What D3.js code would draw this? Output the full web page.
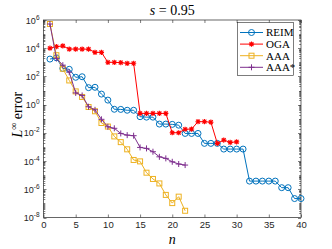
<!DOCTYPE html>
<html>
<head>
<meta charset="utf-8">
<script src="https://cdn.jsdelivr.net/npm/d3@7"></script>
<style>
  html, body { margin: 0; padding: 0; background: #fff; }
  svg { display: block; }
</style>
</head>
<body>
<svg id="chart"></svg>
<script>
const W = 332, H = 249;

const reim = [1.7e3, 2.1e3, 3.7e2, 3.2e2, 87, 95, 16, 17, 5.6, 2.1,
  0.47, 0.46, 0.40, 0.40, 0.14, 0.13, 0.13, 0.042, 0.042, 0.040,
  0.035, 9.1e-3, 9.1e-3, 9.1e-3, 1.8e-3, 1.8e-3, 1.8e-3, 7.1e-4, 7.1e-4, 7.1e-4,
  7.1e-4, 3.8e-6, 3.8e-6, 3.8e-6, 3.8e-6, 3.8e-6, 1.3e-6, 1.3e-6, 2.2e-7, 2.2e-7];
const oga = [1.0e4, 1.3e4, 1.45e4, 8.7e3, 8.7e3, 8.7e3, 8.5e3, 5.1e3, 5.1e3, 1.0e3,
  1.0e3, 9.5e2, 8.5e2, 8.5e2, 0.24, 0.24, 0.24, 0.24, 0.24, 0.0102,
  0.0102, 0.018, 0.0186, 0.062, 0.062, 0.057, 1.8e-3, 3.1e-3, 2.1e-3, 2.3e-3];
const aaa = [5.2e5, 3.2e3, 3.5e2, 52, 8.7, 3.5, 0.68, 0.34, 0.05, 0.028,
  5.6e-3, 2.2e-3, 6.8e-4, 1.2e-4, 9.5e-5, 1.5e-5, 5.4e-6, 2.6e-6, 4.0e-7, 1.05e-7,
  3.0e-7, 3.0e-8];
const aaaStar = [5.2e5, 1.9e3, 6.3e2, 2.0e2, 6.8, 4.5, 0.71, 0.43, 0.091, 0.027,
  0.021, 9.1e-3, 6.9e-3, 6.3e-3, 9.3e-4, 7.9e-4, 4.6e-4, 2.0e-4, 1.55e-4, 8.9e-5,
  6.2e-5, 5.2e-5];

const xTicks = [0, 5, 10, 15, 20, 25, 30, 35, 40];
const yTickExps = [-8, -6, -4, -2, 0, 2, 4, 6];

const series = [
  { name: 'REIM', values: reim, color: '#0072BD', marker: 'circle' },
  { name: 'OGA', values: oga, color: '#FF0000', marker: 'asterisk' },
  { name: 'AAA', values: aaa, color: '#EDB120', marker: 'square' },
  { name: 'AAA*', values: aaaStar, color: '#7E2F8E', marker: 'plus' }
];

const svg = d3.select('#chart').attr('width', W).attr('height', H);

const mLeft = 43.5, mRight = 301, mTop = 20, mBottom = 217.5;
const x = d3.scaleLinear().domain([0, 40]).range([mLeft, mRight]);
const y = d3.scaleLog().domain([1e-8, 1e6]).range([mBottom, mTop]);

const axisColor = '#262626';

// minor ticks on the log axis
const minor = [];
for (let e = -8; e < 6; e++) {
  for (let m = 1; m <= 9; m++) minor.push(m * Math.pow(10, e));
}
minor.push(1e6);
const gMinor = svg.append('g');
minor.forEach(v => {
  const lg10 = Math.log10(v);
  const isDecade = Math.abs(lg10 - Math.round(lg10)) < 1e-9;
  const major = isDecade && yTickExps.includes(Math.round(lg10));
  const len = major ? 3 : 1.8;
  const yy = Math.round(y(v)) + 0.5;
  gMinor.append('line').attr('x1', mLeft).attr('x2', mLeft + len).attr('y1', yy).attr('y2', yy)
    .attr('stroke', axisColor).attr('stroke-width', 0.6);
  gMinor.append('line').attr('x1', mRight).attr('x2', mRight - len).attr('y1', yy).attr('y2', yy)
    .attr('stroke', axisColor).attr('stroke-width', 0.6);
});

// x ticks, bottom and top
const xAxis = d3.axisBottom(x).tickValues(xTicks).tickSizeInner(-3).tickSizeOuter(0).tickPadding(4);
const gx = svg.append('g').attr('transform', `translate(0,${mBottom})`).call(xAxis);
gx.select('.domain').remove();
gx.selectAll('line').attr('stroke', axisColor).attr('stroke-width', 0.6);
gx.selectAll('text').attr('font-family', 'Liberation Sans, Arial, sans-serif')
  .attr('font-size', 9.5).attr('fill', axisColor);

const gxt = svg.append('g').attr('transform', `translate(0,${mTop})`)
  .call(d3.axisTop(x).tickValues(xTicks).tickSizeInner(-3).tickSizeOuter(0).tickFormat(''));
gxt.select('.domain').remove();
gxt.selectAll('line').attr('stroke', axisColor).attr('stroke-width', 0.6);

// y tick labels with superscripts
const gyl = svg.append('g');
yTickExps.forEach(e => {
  const t = gyl.append('text')
    .attr('x', mLeft - 4).attr('y', y(Math.pow(10, e)) + 3.5)
    .attr('text-anchor', 'end')
    .attr('font-family', 'Liberation Sans, Arial, sans-serif')
    .attr('font-size', 9).attr('fill', axisColor);
  t.append('tspan').text('10');
  t.append('tspan').attr('dy', -4).attr('font-size', 6.5).text(String(e));
});

// axes box
svg.append('rect').attr('x', mLeft).attr('y', mTop)
  .attr('width', mRight - mLeft).attr('height', mBottom - mTop)
  .attr('fill', 'none').attr('stroke', axisColor).attr('stroke-width', 0.7);

function drawMarker(g, type, cx, cy, color) {
  if (type === 'circle') {
    g.append('circle').attr('cx', cx).attr('cy', cy).attr('r', 3)
      .attr('fill', 'none').attr('stroke', color).attr('stroke-width', 1);
  } else if (type === 'square') {
    g.append('rect').attr('x', cx - 2.5).attr('y', cy - 2.5).attr('width', 5).attr('height', 5)
      .attr('fill', 'none').attr('stroke', color).attr('stroke-width', 1);
  } else if (type === 'plus') {
    g.append('path').attr('d', `M${cx - 3},${cy}H${cx + 3}M${cx},${cy - 3}V${cy + 3}`)
      .attr('stroke', color).attr('stroke-width', 1);
  } else {
    const r = 2.6, d = r * 0.75;
    g.append('path')
      .attr('d', `M${cx - r},${cy}H${cx + r}M${cx},${cy - r}V${cy + r}M${cx - d},${cy - d}L${cx + d},${cy + d}M${cx - d},${cy + d}L${cx + d},${cy - d}`)
      .attr('stroke', color).attr('stroke-width', 1.1);
  }
}

const line = d3.line().x((d, i) => x(i + 1)).y(d => y(d));

series.forEach(s => {
  const g = svg.append('g');
  g.append('path').datum(s.values).attr('d', line)
    .attr('fill', 'none').attr('stroke', s.color).attr('stroke-width', 1);
  s.values.forEach((v, i) => drawMarker(g, s.marker, x(i + 1), y(v), s.color));
});

// legend
const lg = svg.append('g');
lg.append('rect').attr('x', 237.5).attr('y', 22.5).attr('width', 56).attr('height', 53)
  .attr('fill', '#fff').attr('stroke', '#262626').attr('stroke-width', 0.6);
series.forEach((s, i) => {
  const yy = 32.5 + i * 11.6;
  lg.append('line').attr('x1', 240).attr('x2', 263).attr('y1', yy).attr('y2', yy)
    .attr('stroke', s.color).attr('stroke-width', 1);
  drawMarker(lg, s.marker, 251.5, yy, s.color);
  lg.append('text').attr('x', 266).attr('y', yy + 3.8)
    .attr('font-family', 'Liberation Serif, DejaVu Serif, serif').attr('font-size', 11)
    .attr('fill', '#000').text(s.name);
});

// title
const title = svg.append('text').attr('x', (mLeft + mRight) / 2).attr('y', 15)
  .attr('text-anchor', 'middle').attr('font-family', 'Liberation Serif, DejaVu Serif, serif')
  .attr('font-size', 14).attr('fill', '#000');
title.append('tspan').attr('font-style', 'italic').text('s');
title.append('tspan').text(' = 0.95');

// x label
svg.append('text').attr('x', (mLeft + mRight) / 2).attr('y', 244)
  .attr('text-anchor', 'middle').attr('font-family', 'Liberation Serif, DejaVu Serif, serif')
  .attr('font-style', 'italic').attr('font-size', 14).attr('fill', '#000').text('n');

// y label
const yl = svg.append('text')
  .attr('transform', `translate(22,${(mTop + mBottom) / 2 - 4}) rotate(-90)`)
  .attr('text-anchor', 'middle').attr('font-family', 'Liberation Serif, DejaVu Serif, serif')
  .attr('font-size', 14).attr('fill', '#000');
yl.append('tspan').attr('font-style', 'italic').text('L');
yl.append('tspan').attr('dy', -5).attr('font-size', 10).text('∞');
yl.append('tspan').attr('dy', 5).text(' error');
</script>
</body>
</html>
